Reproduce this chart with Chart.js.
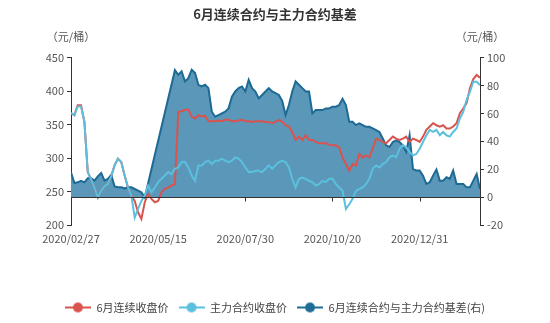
<!DOCTYPE html>
<html>
<head>
<meta charset="utf-8">
<script src="https://cdn.jsdelivr.net/npm/chart.js@4.4.1/dist/chart.umd.min.js"></script>
<style>
  html, body { margin: 0; padding: 0; background: #fff; }
  #wrap { width: 550px; height: 323px; }
</style>
</head>
<body>
<div id="wrap"><canvas id="basisChart"></canvas></div>
<script>
// x 轴：每个点约两个交易日
const xTickIndex = [0, 26, 52, 78, 104];
const xTickLabels = ['2020/02/27', '2020/05/15', '2020/07/30', '2020/10/20', '2020/12/31'];
const unitName = '（元/桶）';

// 6月连续收盘价（左轴）
const contClose = [
    367, 364, 379, 379, 354, 279, 268, 256, 241, 251,
    258, 261, 273, 289, 299, 294, 274, 256, 244, 236,
    219, 209, 234, 246, 239, 234, 236, 249, 254, 256,
    259, 261, 369, 370, 372, 372, 362, 359, 364, 362,
    363, 355, 355, 355, 356, 355, 357, 357, 355, 355,
    356, 357, 355, 355, 354, 355, 355, 355, 354, 354,
    352, 354, 357, 354, 349, 347, 339, 327, 332, 327,
    334, 327, 327, 324, 322, 322, 322, 320, 319, 319,
    316, 301, 291, 281, 291, 289, 306, 301, 304, 301,
    314, 329, 327, 324, 322, 327, 332, 329, 327, 329,
    332, 324, 329, 327, 324, 332, 342, 347, 352, 349,
    347, 349, 344, 344, 347, 352, 367, 374, 382, 404,
    418, 424, 420
];

// 主力合约收盘价（左轴）
const mainClose = [
    367, 364, 377, 377, 354, 279, 268, 256, 241, 251,
    258, 261, 273, 289, 299, 294, 274, 256, 244, 211,
    224, 236, 244, 259, 249, 256, 264, 269, 274, 279,
    276, 284, 286, 294, 294, 286, 274, 266, 289, 289,
    294, 296, 291, 296, 296, 299, 296, 294, 296, 301,
    299, 294, 286, 279, 279, 281, 281, 279, 284, 289,
    284, 289, 294, 296, 294, 286, 269, 256, 269, 271,
    269, 266, 264, 259, 261, 266, 264, 269, 269, 261,
    256, 251, 224, 231, 239, 251, 254, 256, 261, 269,
    284, 289, 286, 291, 294, 301, 304, 301, 314, 319,
    316, 309, 304, 306, 314, 324, 334, 342, 339, 342,
    334, 339, 334, 332, 339, 344, 359, 369, 387, 399,
    414, 414, 409
];

// 6月连续合约与主力合约基差（右轴），中间缺数据
const basis = [
    17.8, 10.1, 10.6, 11.6, 10.6, 13.5, 13.5, 11.8, 14.9, 17.3,
    11.8, 13.0, 15.9, 7.7, 7.0, 7.0, 6.2, 7.0, 7.0, 5.8,
    4.6, 3.4, -0.3, null, null, null, null, null, null, null,
    null, 91.0, 87.7, 90.1, 82.9, 85.3, 91.3, 88.9, 80.5, 79.3,
    80.5, 78.1, 61.2, 57.6, 58.8, 60.0, 61.2, 63.6, 72.0, 75.7,
    78.1, 79.3, 75.7, 84.1, 78.1, 75.7, 70.8, 73.2, 75.7, 78.1,
    75.7, 74.5, 73.2, 68.9, 58.8, 66.0, 75.7, 82.9, 80.5, 78.1,
    75.7, 75.7, 60.0, 62.4, 62.4, 62.4, 63.6, 63.6, 64.8, 64.8,
    66.0, 70.4, 66.0, 54.0, 54.0, 51.6, 52.8, 51.6, 50.4, 50.4,
    49.2, 48.0, 46.7, 42.0, 37.1, 35.9, 39.5, 40.7, 39.5, 37.1,
    32.3, 44.3, 20.2, 19.0, 19.0, 15.4, 9.4, 10.6, 15.4, 19.8,
    11.8, 11.8, 14.2, 13.0, 19.0, 9.4, 9.4, 9.4, 7.0, 7.0,
    11.8, 16.6, 5.8
];

const FONT = "'Noto Sans CJK SC', 'Noto Sans', sans-serif";

function legendMark(color) {
    const c = document.createElement('canvas');
    c.width = 26; c.height = 12;
    const g = c.getContext('2d');
    g.strokeStyle = color;
    g.lineWidth = 2;
    g.beginPath(); g.moveTo(0, 6); g.lineTo(26, 6); g.stroke();
    g.fillStyle = color;
    g.beginPath(); g.arc(13, 6, 5, 0, Math.PI * 2); g.fill();
    return c;
}

const toPoints = arr => arr.map((v, i) => ({ x: i, y: v }));

const extras = {
    id: 'extras',
    afterDatasetsDraw(chart) {
        const { ctx, chartArea, scales } = chart;
        const y0 = Math.round(scales.y1.getPixelForValue(0)) + 0.5;
        ctx.save();
        ctx.strokeStyle = '#333';
        ctx.lineWidth = 1;
        ctx.beginPath();
        ctx.moveTo(chartArea.left, y0);
        ctx.lineTo(chartArea.right, y0);
        ctx.stroke();
        xTickIndex.slice(2).forEach(v => {
            const x = Math.round(scales.x.getPixelForValue(v)) + 0.5;
            ctx.beginPath();
            ctx.moveTo(x, y0);
            ctx.lineTo(x, y0 + 4);
            ctx.stroke();
        });
        ctx.restore();
    },
    afterDraw(chart) {
        const { ctx, chartArea } = chart;
        ctx.save();
        ctx.font = '11px ' + FONT;
        ctx.fillStyle = '#555';
        ctx.textAlign = 'center';
        ctx.textBaseline = 'middle';
        ctx.fillText(unitName, chartArea.left, chartArea.top - 21);
        ctx.fillText(unitName, chartArea.right, chartArea.top - 21);
        ctx.restore();
    }
};

new Chart(document.getElementById('basisChart'), {
    type: 'line',
    data: {
        datasets: [
            {
                label: '6月连续收盘价',
                data: toPoints(contClose),
                borderColor: '#d9534f',
                borderWidth: 2,
                pointRadius: 0,
                pointStyle: legendMark('#d9534f'),
                yAxisID: 'y',
                order: 1
            },
            {
                label: '主力合约收盘价',
                data: toPoints(mainClose),
                borderColor: '#5bc0de',
                borderWidth: 2,
                pointRadius: 0,
                pointStyle: legendMark('#5bc0de'),
                yAxisID: 'y',
                order: 0
            },
            {
                label: '6月连续合约与主力合约基差(右)',
                data: toPoints(basis),
                borderColor: '#1d6a94',
                backgroundColor: '#5b97b9',
                borderWidth: 2,
                pointRadius: 0,
                pointStyle: legendMark('#1f6d97'),
                fill: 'origin',
                spanGaps: true,
                yAxisID: 'y1',
                order: 2
            }
        ]
    },
    options: {
        responsive: true,
        maintainAspectRatio: false,
        animation: false,
        layout: { padding: { left: 0, right: 0, top: 0, bottom: 0 } },
        plugins: {
            title: {
                display: true,
                text: '6月连续合约与主力合约基差',
                color: '#333',
                font: { size: 13, weight: 'bold', family: FONT },
                padding: { top: 6, bottom: 36 }
            },
            legend: {
                position: 'bottom',
                labels: {
                    usePointStyle: true,
                    pointStyleWidth: 26,
                    boxHeight: 11,
                    padding: 10,
                    color: '#444',
                    font: { size: 11, family: FONT },
                    sort: (a, b) => a.datasetIndex - b.datasetIndex
                }
            },
            tooltip: { enabled: false }
        },
        scales: {
            x: {
                type: 'linear',
                min: 0,
                max: contClose.length - 1,
                grid: { display: false, drawTicks: false },
                border: { display: false },
                afterBuildTicks: s => { s.ticks = xTickIndex.map(v => ({ value: v })); },
                afterFit: s => { s.height = 67; },
                ticks: {
                    padding: 7,
                    autoSkip: false,
                    maxRotation: 0,
                    color: '#555',
                    font: { size: 11, family: FONT },
                    callback: v => xTickLabels[xTickIndex.indexOf(v)]
                }
            },
            y: {
                position: 'left',
                min: 200,
                max: 450,
                afterFit: s => { s.width = 71; },
                border: { display: true, color: '#333', width: 1 },
                grid: { drawOnChartArea: false, drawTicks: true, tickLength: 4, tickColor: '#333' },
                ticks: { stepSize: 50, padding: 3, color: '#555', font: { size: 11, family: FONT } }
            },
            y1: {
                position: 'right',
                min: -20,
                max: 100,
                afterFit: s => { s.width = 70; },
                border: { display: true, color: '#333', width: 1 },
                grid: { drawOnChartArea: false, drawTicks: true, tickLength: 4, tickColor: '#333' },
                ticks: { stepSize: 20, padding: 3, color: '#555', font: { size: 11, family: FONT } }
            }
        }
    },
    plugins: [extras]
});
</script>
</body>
</html>
